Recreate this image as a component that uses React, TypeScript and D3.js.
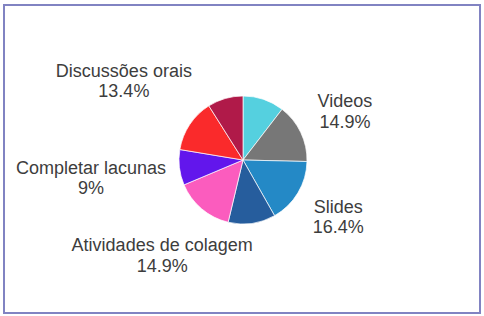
import React, { useEffect, useRef } from 'react';
import * as d3 from 'd3';

// slices, clockwise from 12 o'clock (response counts, 67 in total)
const categories = [
  'Jogos',
  'Videos',
  'Slides',
  'Leitura',
  'Atividades de colagem',
  'Completar lacunas',
  'Discussões orais',
  'Outros',
];
const counts = [7, 10, 11, 8, 10, 6, 9, 6];
const colors = ['#55d0df', '#777777', '#2489c6', '#265d9d', '#fb5cbe', '#6216ec', '#fa2a2b', '#b01a49'];
// which slices get a label in the picture
const showLabel = [false, true, true, false, true, true, true, false];

// layout
const W = 484;
const H = 316;
const cx = 243;
const cy = 160;
const radius = 64;
const labelDist = [0, 113, 111, 0, 125, 153, 143, 0];

const App = () => {
  const svgRef = useRef<SVGSVGElement>(null);

  useEffect(() => {
    document.body.style.margin = '0';
    const svg = d3.select(svgRef.current);
    svg.selectAll('*').remove();

    svg.append('rect')
      .attr('width', W)
      .attr('height', H)
      .attr('fill', '#ffffff');

    svg.append('rect')
      .attr('x', 4)
      .attr('y', 5)
      .attr('width', 476)
      .attr('height', 308)
      .attr('fill', 'none')
      .attr('stroke', '#8183c2')
      .attr('stroke-width', 2);

    const total = d3.sum(counts);
    const fmt = d3.format('.1~f');

    const pie = d3.pie<number>().sort(null).value(d => d);
    const arcs = pie(counts);
    const arc = d3.arc<d3.PieArcDatum<number>>().innerRadius(0).outerRadius(radius);

    const g = svg.append('g').attr('transform', `translate(${cx},${cy})`);

    g.selectAll('path')
      .data(arcs)
      .enter()
      .append('path')
      .attr('d', arc)
      .attr('fill', (d, i) => colors[i])
      .attr('stroke', '#ffffff')
      .attr('stroke-width', 0.7);

    const labels = g.selectAll('.lbl')
      .data(arcs.filter((d, i) => showLabel[i]))
      .enter()
      .append('text')
      .attr('class', 'lbl')
      .attr('transform', d => {
        const r = labelDist[d.index];
        const c = d3.arc<d3.PieArcDatum<number>>().innerRadius(r).outerRadius(r).centroid(d);
        return `translate(${c[0]},${c[1]})`;
      })
      .attr('text-anchor', 'middle')
      .attr('font-family', '"Liberation Sans", Arial, sans-serif')
      .attr('font-size', 18)
      .attr('fill', '#3d3d3d');

    labels.append('tspan')
      .attr('x', 0)
      .attr('y', -4)
      .text(d => categories[d.index]);

    labels.append('tspan')
      .attr('x', 0)
      .attr('y', 16.5)
      .text(d => `${fmt((d.value / total) * 100)}%`);
  }, []);

  return (
    <div style={{ width: W, height: H }}>
      <svg ref={svgRef} width={W} height={H} style={{ display: 'block' }}></svg>
    </div>
  );
};

export default App;
